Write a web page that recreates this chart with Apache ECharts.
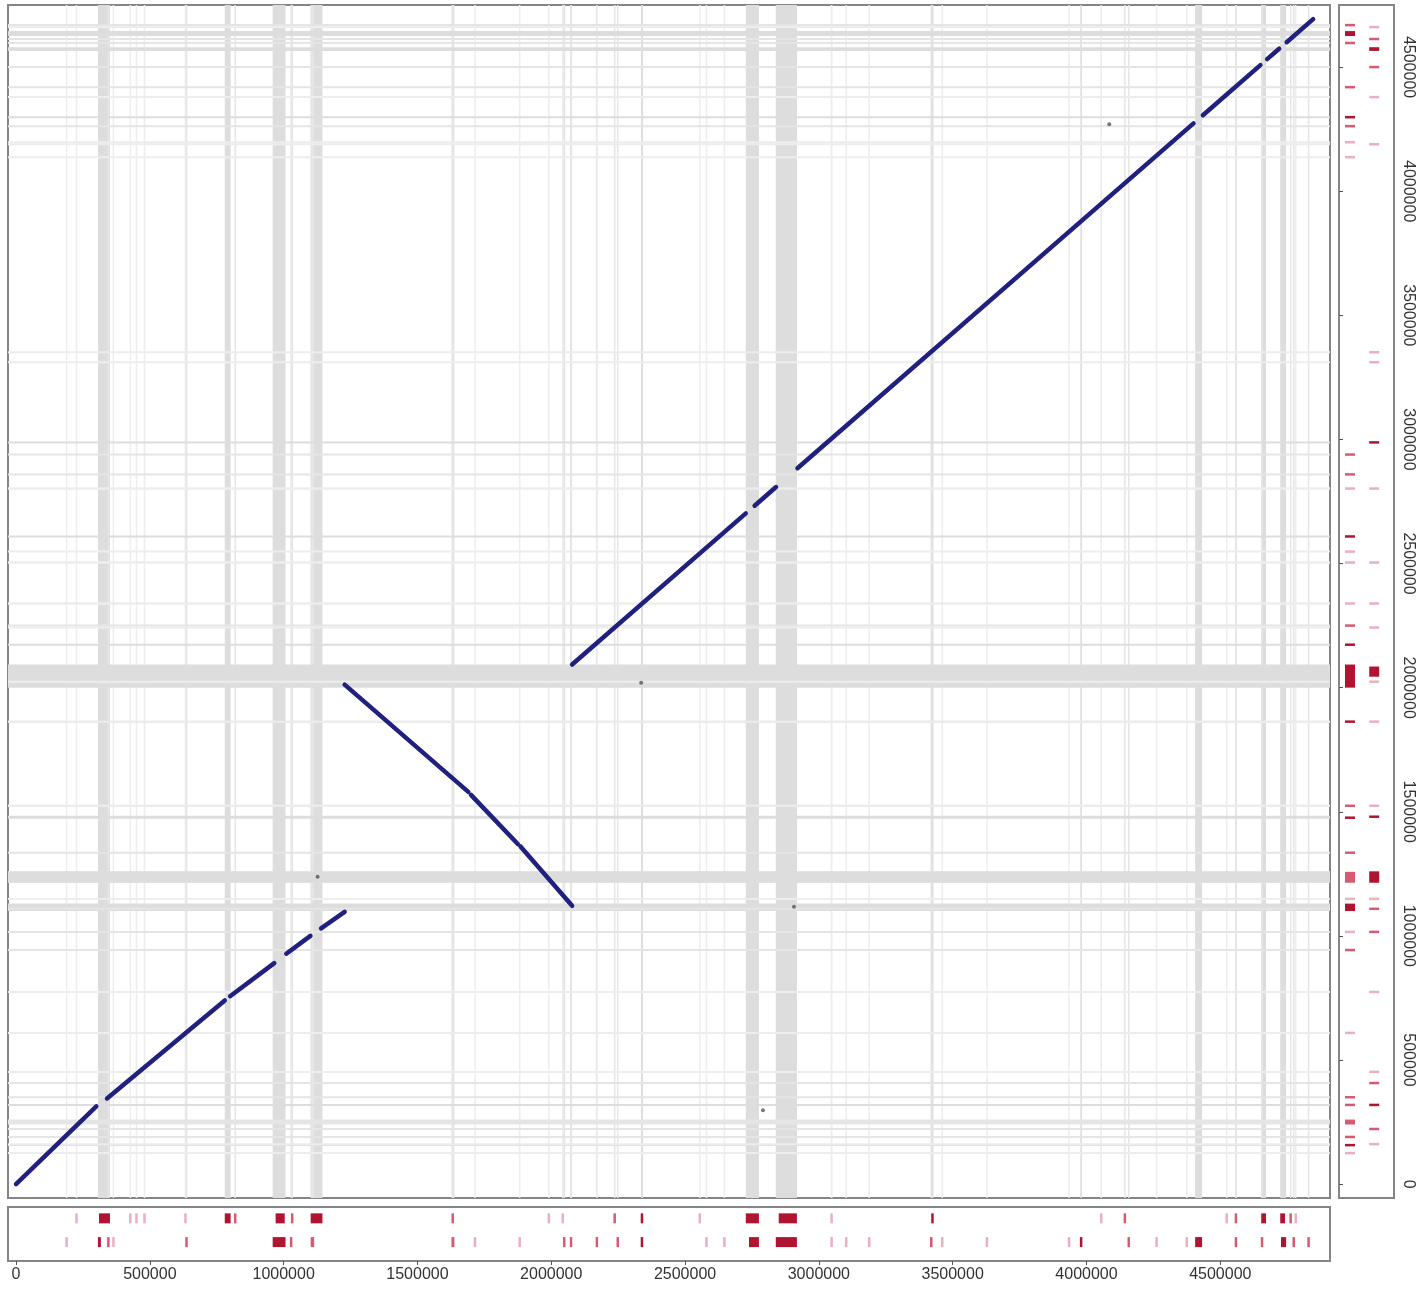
<!DOCTYPE html>
<html lang="en">
<head>
<meta charset="UTF-8">
<title>Dot plot</title>
<script src="https://cdn.jsdelivr.net/npm/echarts@6/dist/echarts.min.js"></script>
<style>html, body {margin: 0; padding: 0; background: #fff;}</style>
</head>
<body>
<div id="main" style="width: 1425px; height: 1291px"></div>
<script type="text/javascript">
// repeat tracks on the x genome, [start, end, depth]
let xTrackTop = [
    [224000, 228000, 1], [310000, 351000, 3], [425000, 429000, 1], [448000, 452000, 1],
    [478000, 482000, 1], [631000, 635000, 1], [780000, 802000, 3], [817000, 821000, 2],
    [970000, 1004000, 3], [1030000, 1034000, 2], [1101000, 1145000, 3], [1630000, 1634000, 2],
    [1989000, 1993000, 1], [2041000, 2045000, 1], [2235000, 2239000, 2], [2336000, 2342000, 3],
    [2552000, 2558000, 1], [2727000, 2776000, 3], [2850000, 2918000, 3], [3045000, 3050000, 1],
    [3421000, 3428000, 3], [4052000, 4058000, 1], [4141000, 4146000, 2], [4522000, 4526000, 1],
    [4556000, 4561000, 2], [4653000, 4671000, 3], [4724000, 4742000, 3], [4761000, 4765000, 2],
    [4780000, 4784000, 1]
];
let xTrackBottom = [
    [187000, 191000, 1], [306000, 317000, 3], [343000, 347000, 2], [362000, 366000, 1],
    [634000, 640000, 2], [959000, 1007000, 3], [1026000, 1030000, 2], [1101000, 1114000, 2],
    [1627000, 1638000, 2], [1713000, 1717000, 1], [1880000, 1884000, 1], [2045000, 2052000, 2],
    [2070000, 2078000, 2], [2168000, 2173000, 2], [2246000, 2251000, 2], [2336000, 2342000, 3],
    [2578000, 2582000, 1], [2645000, 2649000, 1], [2739000, 2776000, 3], [2839000, 2918000, 3],
    [3045000, 3050000, 1], [3100000, 3104000, 1], [3186000, 3190000, 1], [3418000, 3422000, 2],
    [3459000, 3463000, 1], [3626000, 3630000, 1], [3933000, 3937000, 1], [3977000, 3983000, 3],
    [4156000, 4160000, 2], [4260000, 4264000, 1], [4373000, 4377000, 1], [4406000, 4432000, 3],
    [4556000, 4561000, 2], [4653000, 4659000, 2], [4727000, 4746000, 3], [4772000, 4777000, 2],
    [4828000, 4832000, 2]
];
// repeat tracks on the y genome
let yTrackLeft = [
    [4665000, 4673000, 2], [4625000, 4645000, 3], [4593000, 4601000, 2], [4415000, 4423000, 2],
    [4294000, 4302000, 3], [4258000, 4266000, 2], [4193000, 4201000, 1], [4133000, 4141000, 1],
    [2935000, 2943000, 2], [2855000, 2863000, 2], [2798000, 2806000, 1], [2605000, 2613000, 3],
    [2544000, 2552000, 1], [2500000, 2508000, 1], [2335000, 2343000, 1], [2246000, 2254000, 2],
    [2169000, 2177000, 3], [2000000, 2093000, 3], [1859000, 1867000, 3], [1520000, 1528000, 2],
    [1472000, 1480000, 3], [1331000, 1339000, 2], [1214000, 1258000, 2], [1145000, 1153000, 1],
    [1100000, 1130000, 3], [1012000, 1020000, 1], [939000, 947000, 2], [605000, 613000, 1],
    [346000, 354000, 2], [315000, 323000, 2], [240000, 260000, 2], [186000, 194000, 2],
    [153000, 161000, 3], [121000, 129000, 1]
];
let yTrackRight = [
    [4657000, 4665000, 1], [4609000, 4617000, 2], [4565000, 4580000, 3], [4496000, 4504000, 2],
    [4375000, 4383000, 1], [4185000, 4193000, 1], [3347000, 3355000, 1], [3307000, 3315000, 1],
    [2984000, 2992000, 3], [2798000, 2806000, 1], [2500000, 2508000, 1], [2335000, 2343000, 1],
    [2238000, 2246000, 1], [2044000, 2085000, 3], [2020000, 2028000, 1], [1859000, 1867000, 1],
    [1520000, 1528000, 1], [1476000, 1484000, 3], [1214000, 1260000, 3], [1145000, 1153000, 1],
    [1105000, 1113000, 2], [1012000, 1020000, 2], [770000, 778000, 1], [448000, 456000, 1],
    [403000, 411000, 2], [315000, 323000, 3], [218000, 226000, 2], [157000, 165000, 1]
];
// aligned segments, [xStart, xEnd, yStart, yEnd]
let blocks = [
    [0, 300000, 0, 313000],
    [340000, 780000, 345000, 740000],
    [800000, 965000, 757000, 890000],
    [1010000, 1100000, 928000, 1000000],
    [1140000, 1228000, 1030000, 1097000],
    [1228000, 1690000, 2012000, 1580000],
    [1700000, 1875000, 1568000, 1370000],
    [1885000, 2078000, 1360000, 1121000],
    [2078000, 2727000, 2093000, 2702000],
    [2760000, 2840000, 2733000, 2808000],
    [2920000, 4400000, 2884000, 4273000],
    [4435000, 4650000, 4306000, 4508000],
    [4675000, 4720000, 4532000, 4574000],
    [4748000, 4847000, 4600000, 4693000]
];
let strayHits = [
    [1127000, 1238000], [2907000, 1117000], [2336000, 2020000], [2791000, 298000], [4085000, 4270000]
];
let tickValues = [0, 500000, 1000000, 1500000, 2000000, 2500000, 3000000, 3500000, 4000000, 4500000];

let X_MIN = -30000, X_MAX = 4910000;
let Y_MIN = -56000, Y_MAX = 4750000;

let greys = {1: '#ededed', 2: '#e5e5e5', 3: '#dddddd'};
let reds = {1: '#eab0bc', 2: '#d65a72', 3: '#b01430'};

function vBand(params, api) {
    let cs = params.coordSys;
    let a = api.coord([api.value(0), 0])[0];
    let b = api.coord([api.value(1), 0])[0];
    let w = Math.max(b - a, 1.5);
    let x = (a + b) / 2 - w / 2;
    return {type: 'rect', shape: {x: x, y: cs.y, width: w, height: cs.height},
        style: {fill: greys[api.value(2)]}};
}
function hBand(params, api) {
    let cs = params.coordSys;
    let a = api.coord([0, api.value(0)])[1];
    let b = api.coord([0, api.value(1)])[1];
    let h = Math.max(a - b, 1.5);
    let y = (a + b) / 2 - h / 2;
    return {type: 'rect', shape: {x: cs.x, y: y, width: cs.width, height: h},
        style: {fill: greys[api.value(2)]}};
}
function xMark(frac) {
    return function (params, api) {
        let cs = params.coordSys;
        let a = api.coord([api.value(0), 0])[0];
        let b = api.coord([api.value(1), 0])[0];
        let w = Math.max(b - a, 2.5);
        let cy = cs.y + cs.height * frac;
        return {type: 'rect', shape: {x: (a + b) / 2 - w / 2, y: cy - 5, width: w, height: 10},
            style: {fill: reds[api.value(2)]}};
    };
}
function yMark(frac) {
    return function (params, api) {
        let cs = params.coordSys;
        let a = api.coord([0, api.value(0)])[1];
        let b = api.coord([0, api.value(1)])[1];
        let h = Math.max(a - b, 2.5);
        let cx = cs.x + cs.width * frac;
        return {type: 'rect', shape: {x: cx - 5, y: (a + b) / 2 - h / 2, width: 10, height: h},
            style: {fill: reds[api.value(2)]}};
    };
}
function segItem(params, api) {
    let p0 = api.coord([api.value(0), api.value(2)]);
    let p1 = api.coord([api.value(1), api.value(3)]);
    return {type: 'line', shape: {x1: p0[0], y1: p0[1], x2: p1[0], y2: p1[1]},
        style: {stroke: '#20207e', lineWidth: 4.5, lineCap: 'round'}};
}

let labelFont = {fontFamily: 'Liberation Sans', fontSize: 16, color: '#333'};
let chart = echarts.init(document.getElementById('main'));
let option = {
    backgroundColor: '#fff',
    animation: false,
    grid: [
        {left: 8, top: 5, width: 1322, height: 1193, show: true, borderColor: '#858585', borderWidth: 2, backgroundColor: '#fff'},
        {left: 8, top: 1207, width: 1322, height: 54, show: true, borderColor: '#858585', borderWidth: 2, backgroundColor: '#fff'},
        {left: 1339, top: 5, width: 55, height: 1193, show: true, borderColor: '#858585', borderWidth: 2, backgroundColor: '#fff'}
    ],
    xAxis: [
        {gridIndex: 0, type: 'value', min: X_MIN, max: X_MAX, show: false},
        {gridIndex: 1, type: 'value', min: X_MIN, max: X_MAX, position: 'bottom',
            axisLine: {show: false}, splitLine: {show: false},
            axisTick: {show: true, length: 4, customValues: tickValues, lineStyle: {color: '#555'}},
            axisLabel: Object.assign({customValues: tickValues, margin: 6, formatter: v => String(v)}, labelFont)},
        {gridIndex: 2, type: 'value', min: 0, max: 1, show: false}
    ],
    yAxis: [
        {gridIndex: 0, type: 'value', min: Y_MIN, max: Y_MAX, show: false},
        {gridIndex: 1, type: 'value', min: 0, max: 1, show: false},
        {gridIndex: 2, type: 'value', min: Y_MIN, max: Y_MAX, position: 'right',
            axisLine: {show: false}, splitLine: {show: false},
            axisTick: {show: true, length: 4, customValues: tickValues, lineStyle: {color: '#555'}},
            axisLabel: Object.assign({customValues: tickValues, margin: 6, rotate: -90, formatter: v => String(v)}, labelFont)}
    ],
    series: [
        {type: 'custom', xAxisIndex: 0, yAxisIndex: 0, renderItem: vBand, clip: true,
            data: xTrackTop.concat(xTrackBottom), encode: {x: [0, 1]}, silent: true, z: 1},
        {type: 'custom', xAxisIndex: 0, yAxisIndex: 0, renderItem: hBand, clip: true,
            data: yTrackLeft.concat(yTrackRight), encode: {y: [0, 1]}, silent: true, z: 1},
        {type: 'custom', xAxisIndex: 0, yAxisIndex: 0, renderItem: segItem, clip: true,
            data: blocks, encode: {x: [0, 1], y: [2, 3]}, silent: true, z: 3},
        {type: 'scatter', xAxisIndex: 0, yAxisIndex: 0, data: strayHits, symbolSize: 4,
            itemStyle: {color: '#555'}, silent: true, z: 4},
        {type: 'custom', xAxisIndex: 1, yAxisIndex: 1, renderItem: xMark(0.21),
            data: xTrackTop, encode: {x: [0, 1]}, silent: true},
        {type: 'custom', xAxisIndex: 1, yAxisIndex: 1, renderItem: xMark(0.65),
            data: xTrackBottom, encode: {x: [0, 1]}, silent: true},
        {type: 'custom', xAxisIndex: 2, yAxisIndex: 2, renderItem: yMark(0.2),
            data: yTrackLeft, encode: {y: [0, 1]}, silent: true},
        {type: 'custom', xAxisIndex: 2, yAxisIndex: 2, renderItem: yMark(0.64),
            data: yTrackRight, encode: {y: [0, 1]}, silent: true}
    ]
};
chart.setOption(option);
</script>
</body>
</html>
